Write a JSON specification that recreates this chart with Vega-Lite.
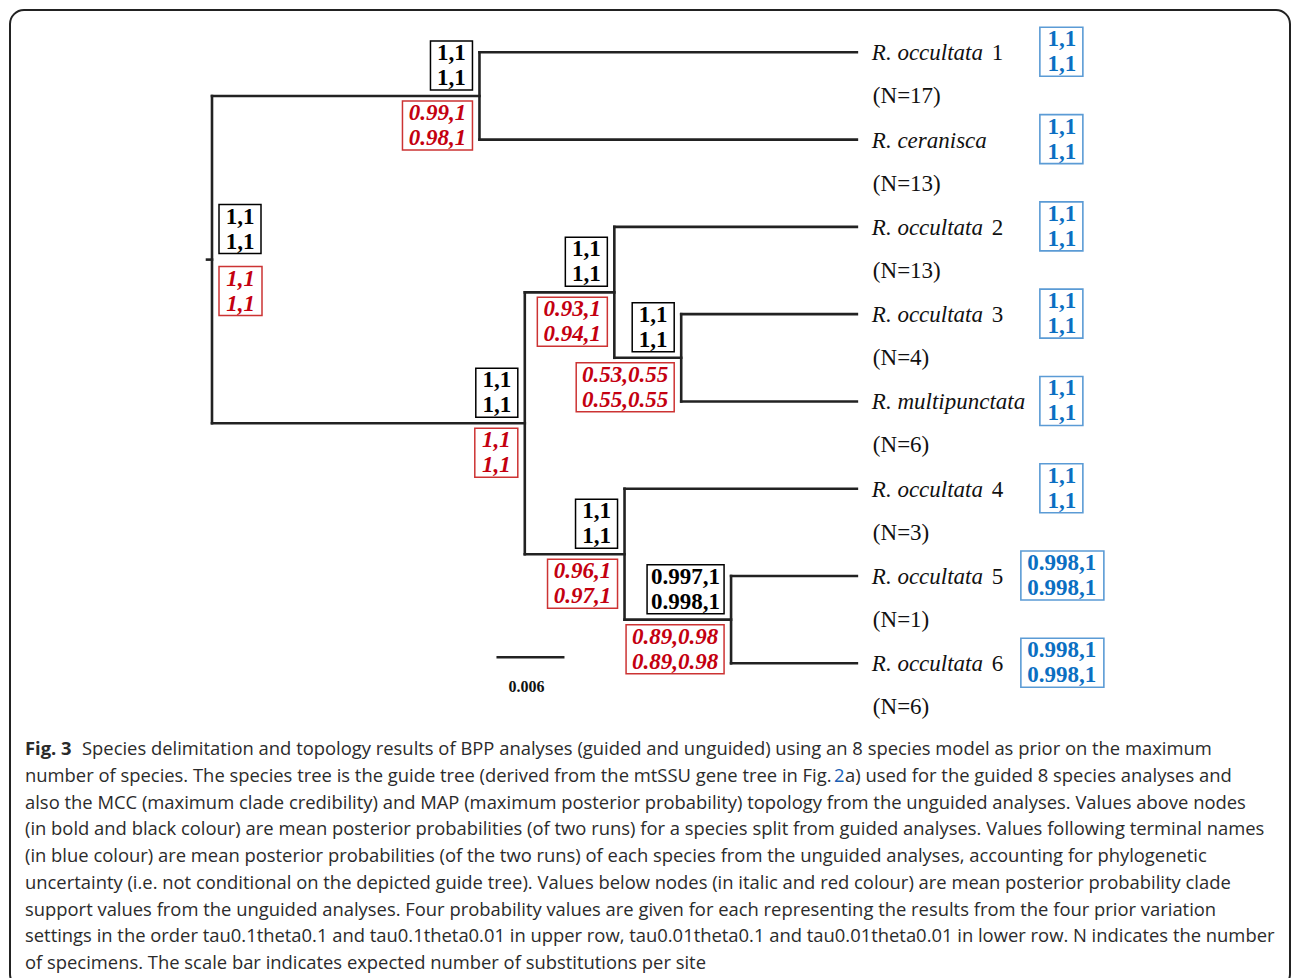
{
  "$schema": "https://vega.github.io/schema/vega-lite/v6.json",
  "width": 1292,
  "height": 978,
  "autosize": {"type": "fit", "contains": "padding"},
  "padding": {"left": 10, "top": 10, "right": 2, "bottom": -10},
  "background": "white",
  "config": {"view": {"stroke": "#222222", "strokeWidth": 2, "cornerRadius": 14}},
  "datasets": {
    "segs": [
      {"x": -0.00044, "x2": 0, "y": 2.375, "y2": 2.375},
      {"x": 0, "x2": 0.0236, "y": 0.5, "y2": 0.5},
      {"x": 0, "x2": 0.0276, "y": 4.25, "y2": 4.25},
      {"x": 0.0236, "x2": 0.0569, "y": 0, "y2": 0},
      {"x": 0.0236, "x2": 0.0569, "y": 1, "y2": 1},
      {"x": 0.0276, "x2": 0.0355, "y": 2.75, "y2": 2.75},
      {"x": 0.0276, "x2": 0.0364, "y": 5.75, "y2": 5.75},
      {"x": 0.0355, "x2": 0.0569, "y": 2, "y2": 2},
      {"x": 0.0355, "x2": 0.0414, "y": 3.5, "y2": 3.5},
      {"x": 0.0414, "x2": 0.0569, "y": 3, "y2": 3},
      {"x": 0.0414, "x2": 0.0569, "y": 4, "y2": 4},
      {"x": 0.0364, "x2": 0.0569, "y": 5, "y2": 5},
      {"x": 0.0364, "x2": 0.0458, "y": 6.5, "y2": 6.5},
      {"x": 0.0458, "x2": 0.0569, "y": 6, "y2": 6},
      {"x": 0.0458, "x2": 0.0569, "y": 7, "y2": 7},
      {"x": 0, "x2": 0, "y": 0.5, "y2": 4.25},
      {"x": 0.0236, "x2": 0.0236, "y": 0, "y2": 1},
      {"x": 0.0276, "x2": 0.0276, "y": 2.75, "y2": 5.75},
      {"x": 0.0355, "x2": 0.0355, "y": 2, "y2": 3.5},
      {"x": 0.0414, "x2": 0.0414, "y": 3, "y2": 4},
      {"x": 0.0364, "x2": 0.0364, "y": 5, "y2": 6.5},
      {"x": 0.0458, "x2": 0.0458, "y": 6, "y2": 7}
    ],
    "nodes": [
      {"node": "root", "x": 0, "y": 2.375, "up": "1,1\n1,1", "down": "1,1\n1,1"},
      {"node": "A", "x": 0.0236, "y": 0.5, "up": "1,1\n1,1", "down": "0.99,1\n0.98,1"},
      {"node": "B", "x": 0.0276, "y": 4.25, "up": "1,1\n1,1", "down": "1,1\n1,1"},
      {"node": "C", "x": 0.0355, "y": 2.75, "up": "1,1\n1,1", "down": "0.93,1\n0.94,1"},
      {"node": "D", "x": 0.0414, "y": 3.5, "up": "1,1\n1,1", "down": "0.53,0.55\n0.55,0.55"},
      {"node": "E", "x": 0.0364, "y": 5.75, "up": "1,1\n1,1", "down": "0.96,1\n0.97,1"},
      {"node": "F", "x": 0.0458, "y": 6.5, "up": "0.997,1\n0.998,1", "down": "0.89,0.98\n0.89,0.98"}
    ],
    "tips": [
      {"name": "R. occultata", "num": "1", "n": "(N=17)", "x": 0.0569, "y": 0, "pp": "1,1\n1,1"},
      {"name": "R. ceranisca", "num": "", "n": "(N=13)", "x": 0.0569, "y": 1, "pp": "1,1\n1,1"},
      {"name": "R. occultata", "num": "2", "n": "(N=13)", "x": 0.0569, "y": 2, "pp": "1,1\n1,1"},
      {"name": "R. occultata", "num": "3", "n": "(N=4)", "x": 0.0569, "y": 3, "pp": "1,1\n1,1"},
      {"name": "R. multipunctata", "num": "", "n": "(N=6)", "x": 0.0569, "y": 4, "pp": "1,1\n1,1"},
      {"name": "R. occultata", "num": "4", "n": "(N=3)", "x": 0.0569, "y": 5, "pp": "1,1\n1,1"},
      {"name": "R. occultata", "num": "5", "n": "(N=1)", "x": 0.0569, "y": 6, "pp": "0.998,1\n0.998,1"},
      {"name": "R. occultata", "num": "6", "n": "(N=6)", "x": 0.0569, "y": 7, "pp": "0.998,1\n0.998,1"}
    ],
    "bar": [{"x": 0.0251, "x2": 0.0311, "y": 6.93, "y2": 6.93, "label": "0.006"}],
    "caption": [
      {"line": 0, "part": "fig", "text": "Fig. 3"},
      {"line": 0, "part": "body", "text": "Species delimitation and topology results of BPP analyses (guided and unguided) using an 8 species model as prior on the maximum"},
      {"line": 1, "part": "a", "text": "number of species. The species tree is the guide tree (derived from the mtSSU gene tree in Fig."},
      {"line": 1, "part": "link", "text": "2"},
      {"line": 1, "part": "b", "text": "a) used for the guided 8 species analyses and"},
      {"line": 2, "part": "plain", "text": "also the MCC (maximum clade credibility) and MAP (maximum posterior probability) topology from the unguided analyses. Values above nodes"},
      {"line": 3, "part": "plain", "text": "(in bold and black colour) are mean posterior probabilities (of two runs) for a species split from guided analyses. Values following terminal names"},
      {"line": 4, "part": "plain", "text": "(in blue colour) are mean posterior probabilities (of the two runs) of each species from the unguided analyses, accounting for phylogenetic"},
      {"line": 5, "part": "plain", "text": "uncertainty (i.e. not conditional on the depicted guide tree). Values below nodes (in italic and red colour) are mean posterior probability clade"},
      {"line": 6, "part": "plain", "text": "support values from the unguided analyses. Four probability values are given for each representing the results from the four prior variation"},
      {"line": 7, "part": "plain", "text": "settings in the order tau0.1theta0.1 and tau0.1theta0.01 in upper row, tau0.01theta0.1 and tau0.01theta0.01 in lower row. N indicates the number"},
      {"line": 8, "part": "plain", "text": "of specimens. The scale bar indicates expected number of substitutions per site"}
    ]
  },
  "resolve": {"scale": {"x": "independent", "y": "independent"}},
  "layer": [
    {
      "encoding": {
        "x": {"field": "x", "type": "quantitative", "scale": {"domain": [0, 0.06], "range": [202, 882], "nice": false, "zero": false}, "axis": null},
        "y": {"field": "y", "type": "quantitative", "scale": {"domain": [0, 7], "range": [42.3, 653.3], "nice": false, "zero": false}, "axis": null}
      },
      "layer": [
        {"data": {"name": "segs"}, "mark": {"type": "rule", "stroke": "#222222", "strokeWidth": 2.6, "strokeCap": "square"},
         "encoding": {"x2": {"field": "x2"}, "y2": {"field": "y2"}}},
        {"data": {"name": "bar"}, "mark": {"type": "rule", "stroke": "#222222", "strokeWidth": 2.4},
         "encoding": {"x2": {"field": "x2"}, "y2": {"field": "y2"}}},
        {"data": {"name": "bar"}, "mark": {"type": "text", "font": "Liberation Serif", "fontWeight": "bold", "fontSize": 16, "align": "center", "baseline": "middle", "dx": 30, "dy": 30, "color": "#111111"},
         "encoding": {"text": {"field": "label"}}},
        {"data": {"name": "tips"}, "mark": {"type": "text", "font": "Liberation Serif", "fontStyle": "italic", "fontSize": 23, "align": "left", "baseline": "middle", "dx": 15, "dy": 1, "color": "#111111"},
         "encoding": {"text": {"field": "name"}}},
        {"data": {"name": "tips"}, "transform": [{"filter": "datum.num != ''"}], "mark": {"type": "text", "font": "Liberation Serif", "fontSize": 23, "align": "left", "baseline": "middle", "dx": 135, "dy": 1, "color": "#111111"},
         "encoding": {"text": {"field": "num"}}},
        {"data": {"name": "tips"}, "mark": {"type": "text", "font": "Liberation Serif", "fontSize": 23, "align": "left", "baseline": "middle", "dx": 16, "dy": 44, "color": "#111111"},
         "encoding": {"text": {"field": "n"}}},
        {"data": {"name": "tips"}, "transform": [{"filter": "length(datum.pp) <= 7"}], "mark": {"type": "point", "shape": "M183,-25H226V24H183Z", "size": 4, "filled": false, "stroke": "#5b9bd5", "strokeWidth": 1.6, "opacity": 1}},
        {"data": {"name": "tips"}, "transform": [{"filter": "length(datum.pp) > 7"}], "mark": {"type": "point", "shape": "M164,-25H247V24H164Z", "size": 4, "filled": false, "stroke": "#5b9bd5", "strokeWidth": 1.6, "opacity": 1}},
        {"data": {"name": "tips"}, "mark": {"type": "text", "font": "Liberation Serif", "fontWeight": "bold", "fontSize": 23, "align": "center", "baseline": "middle", "lineBreak": "\n", "lineHeight": 25, "dx": 205, "dy": -13, "color": "#0b6fc2"},
         "encoding": {"text": {"field": "pp"}}},
        {"data": {"name": "nodes"}, "transform": [{"filter": "datum.node == 'root'"}], "mark": {"type": "point", "shape": "M7,-55H49V-6H7Z", "size": 4, "filled": false, "stroke": "#000000", "strokeWidth": 1.5, "opacity": 1}},
        {"data": {"name": "nodes"}, "transform": [{"filter": "datum.node == 'root'"}], "mark": {"type": "point", "shape": "M7,7H50V56H7Z", "size": 4, "filled": false, "stroke": "#cc3333", "strokeWidth": 1.5, "opacity": 1}},
        {"data": {"name": "nodes"}, "transform": [{"filter": "datum.node == 'root'"}], "mark": {"type": "text", "font": "Liberation Serif", "fontWeight": "bold", "fontSize": 23, "align": "center", "baseline": "middle", "lineBreak": "\n", "lineHeight": 25, "dx": 28, "dy": -43, "color": "#000000"},
         "encoding": {"text": {"field": "up"}}},
        {"data": {"name": "nodes"}, "transform": [{"filter": "datum.node == 'root'"}], "mark": {"type": "text", "font": "Liberation Serif", "fontWeight": "bold", "fontStyle": "italic", "fontSize": 23, "align": "center", "baseline": "middle", "lineBreak": "\n", "lineHeight": 25, "dx": 28.5, "dy": 19, "color": "#c40010"},
         "encoding": {"text": {"field": "down"}}},
        {"data": {"name": "nodes"}, "transform": [{"filter": "datum.node != 'root' && length(datum.up) <= 7"}], "mark": {"type": "point", "shape": "M-49,-55H-7V-6H-49Z", "size": 4, "filled": false, "stroke": "#000000", "strokeWidth": 1.5, "opacity": 1}},
        {"data": {"name": "nodes"}, "transform": [{"filter": "datum.node != 'root' && length(datum.up) <= 7"}], "mark": {"type": "text", "font": "Liberation Serif", "fontWeight": "bold", "fontSize": 23, "align": "center", "baseline": "middle", "lineBreak": "\n", "lineHeight": 25, "dx": -28, "dy": -43, "color": "#000000"},
         "encoding": {"text": {"field": "up"}}},
        {"data": {"name": "nodes"}, "transform": [{"filter": "length(datum.up) > 7"}], "mark": {"type": "point", "shape": "M-84,-55H-7V-6H-84Z", "size": 4, "filled": false, "stroke": "#000000", "strokeWidth": 1.5, "opacity": 1}},
        {"data": {"name": "nodes"}, "transform": [{"filter": "length(datum.up) > 7"}], "mark": {"type": "text", "font": "Liberation Serif", "fontWeight": "bold", "fontSize": 23, "align": "center", "baseline": "middle", "lineBreak": "\n", "lineHeight": 25, "dx": -45.5, "dy": -43, "color": "#000000"},
         "encoding": {"text": {"field": "up"}}},
        {"data": {"name": "nodes"}, "transform": [{"filter": "datum.node != 'root' && length(datum.down) <= 7"}], "mark": {"type": "point", "shape": "M-50,5H-7V54H-50Z", "size": 4, "filled": false, "stroke": "#cc3333", "strokeWidth": 1.5, "opacity": 1}},
        {"data": {"name": "nodes"}, "transform": [{"filter": "datum.node != 'root' && length(datum.down) <= 7"}], "mark": {"type": "text", "font": "Liberation Serif", "fontWeight": "bold", "fontStyle": "italic", "fontSize": 23, "align": "center", "baseline": "middle", "lineBreak": "\n", "lineHeight": 25, "dx": -28.5, "dy": 17, "color": "#c40010"},
         "encoding": {"text": {"field": "down"}}},
        {"data": {"name": "nodes"}, "transform": [{"filter": "length(datum.down) > 7 && length(datum.down) < 16"}], "mark": {"type": "point", "shape": "M-77,5H-7V54H-77Z", "size": 4, "filled": false, "stroke": "#cc3333", "strokeWidth": 1.5, "opacity": 1}},
        {"data": {"name": "nodes"}, "transform": [{"filter": "length(datum.down) > 7 && length(datum.down) < 16"}], "mark": {"type": "text", "font": "Liberation Serif", "fontWeight": "bold", "fontStyle": "italic", "fontSize": 23, "align": "center", "baseline": "middle", "lineBreak": "\n", "lineHeight": 25, "dx": -42, "dy": 17, "color": "#c40010"},
         "encoding": {"text": {"field": "down"}}},
        {"data": {"name": "nodes"}, "transform": [{"filter": "length(datum.down) >= 16"}], "mark": {"type": "point", "shape": "M-105,5H-7V54H-105Z", "size": 4, "filled": false, "stroke": "#cc3333", "strokeWidth": 1.5, "opacity": 1}},
        {"data": {"name": "nodes"}, "transform": [{"filter": "length(datum.down) >= 16"}], "mark": {"type": "text", "font": "Liberation Serif", "fontWeight": "bold", "fontStyle": "italic", "fontSize": 23, "align": "center", "baseline": "middle", "lineBreak": "\n", "lineHeight": 25, "dx": -56, "dy": 17, "color": "#c40010"},
         "encoding": {"text": {"field": "down"}}}
      ]
    },
    {
      "data": {"name": "caption"},
      "encoding": {
        "x": {"datum": 0, "type": "quantitative", "scale": {"domain": [0, 1], "range": [15, 1280], "nice": false, "zero": false}, "axis": null},
        "y": {"field": "line", "type": "quantitative", "scale": {"domain": [0, 8], "range": [739, 953], "nice": false, "zero": false}, "axis": null},
        "text": {"field": "text"}
      },
      "layer": [
        {"transform": [{"filter": "datum.part == 'fig'"}], "mark": {"type": "text", "font": "Open Sans", "fontWeight": "bold", "fontSize": 18.4, "align": "left", "baseline": "middle", "color": "#2b2b2b"}},
        {"transform": [{"filter": "datum.part == 'body'"}], "mark": {"type": "text", "font": "Open Sans", "fontSize": 18.4, "align": "left", "baseline": "middle", "dx": 57, "color": "#2b2b2b"}},
        {"transform": [{"filter": "datum.part == 'a' || datum.part == 'plain'"}], "mark": {"type": "text", "font": "Open Sans", "fontSize": 18.4, "align": "left", "baseline": "middle", "color": "#2b2b2b"}},
        {"transform": [{"filter": "datum.part == 'link'"}], "mark": {"type": "text", "font": "Open Sans", "fontSize": 18.4, "align": "left", "baseline": "middle", "dx": 809, "color": "#1a5fb4"}},
        {"transform": [{"filter": "datum.part == 'b'"}], "mark": {"type": "text", "font": "Open Sans", "fontSize": 18.4, "align": "left", "baseline": "middle", "dx": 820, "color": "#2b2b2b"}}
      ]
    }
  ]
}
